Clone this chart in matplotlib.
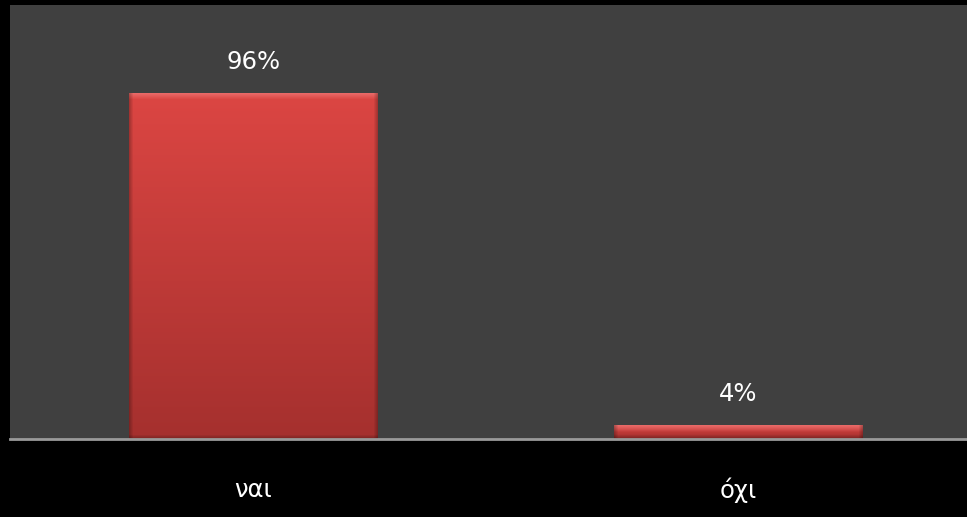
import numpy as np
import matplotlib.pyplot as plt
from matplotlib.colors import to_rgb

categories = ['ναι', 'όχι']
percentages = [96, 4]

W, H, DPI = 967, 517, 100
fig = plt.figure(figsize=(W / DPI, H / DPI), dpi=DPI, facecolor='black')

# plot area: dark grey panel, baseline at the bottom
left, bottom, top = 10 / W, (H - 439) / H, (H - 5) / H
ax = fig.add_axes([left, bottom, 1 - left, top - bottom])
ax.set_facecolor('#404040')

xs = np.arange(len(categories))
width = 0.513
ymax = 120.4
ax.set_xlim(-0.502, 1.471)
ax.set_ylim(0, ymax)

bars = ax.bar(xs, percentages, width=width, color='#c93c3a', zorder=2)

# shaded fill for each bar, built at pixel resolution
ax_w_px = (1 - left) * W
ax_h_px = (top - bottom) * H
px_per_x = ax_w_px / (1.471 + 0.502)
top_c = np.array(to_rgb('#dc4643'))
bot_c = np.array(to_rgb('#a5302e'))
bevel_c = np.array(to_rgb('#f07a78'))
for bar, val in zip(bars, percentages):
    nx = int(round(width * px_per_x))
    ny = max(int(round(val * ax_h_px / ymax)), 2)
    t = np.linspace(0, 1, ny)[:, None, None]
    img = top_c * (1 - t) + bot_c * t
    img = np.repeat(img, nx, axis=1)
    # top bevel highlight
    nb = min(7, ny // 2)
    for i in range(nb):
        f = 1 - i / max(nb, 1)
        img[i] = img[i] * (1 - 0.8 * f) + bevel_c * 0.8 * f
    # darker rims on the sides and bottom
    for j in range(4):
        f = 0.25 * (1 - j / 4)
        img[:, j] *= (1 - f)
        img[:, -1 - j] *= (1 - f)
        if ny > 8:
            img[-1 - j] *= (1 - f)
    x0 = bar.get_x()
    im = ax.imshow(img, extent=(x0, x0 + width, 0, val), aspect='auto',
                   zorder=3, interpolation='bilinear')
    im.set_clip_path(bar)

for x, val in zip(xs, percentages):
    ax.annotate(f'{val}%', (x, val), xytext=(0, 22), textcoords='offset points',
                ha='center', va='center', color='white', fontsize=17.5, zorder=4)

ax.set_xticks(xs)
ax.set_xticklabels(categories, color='white', fontsize=17.5)
ax.tick_params(axis='x', length=0, pad=28)
ax.set_yticks([])
for side in ['top', 'left', 'right']:
    ax.spines[side].set_visible(False)
ax.spines['bottom'].set_color('#9a9a9a')
ax.spines['bottom'].set_linewidth(2)
ax.spines['bottom'].set_zorder(5)

fig.savefig('out.png', dpi=DPI, facecolor='black')
